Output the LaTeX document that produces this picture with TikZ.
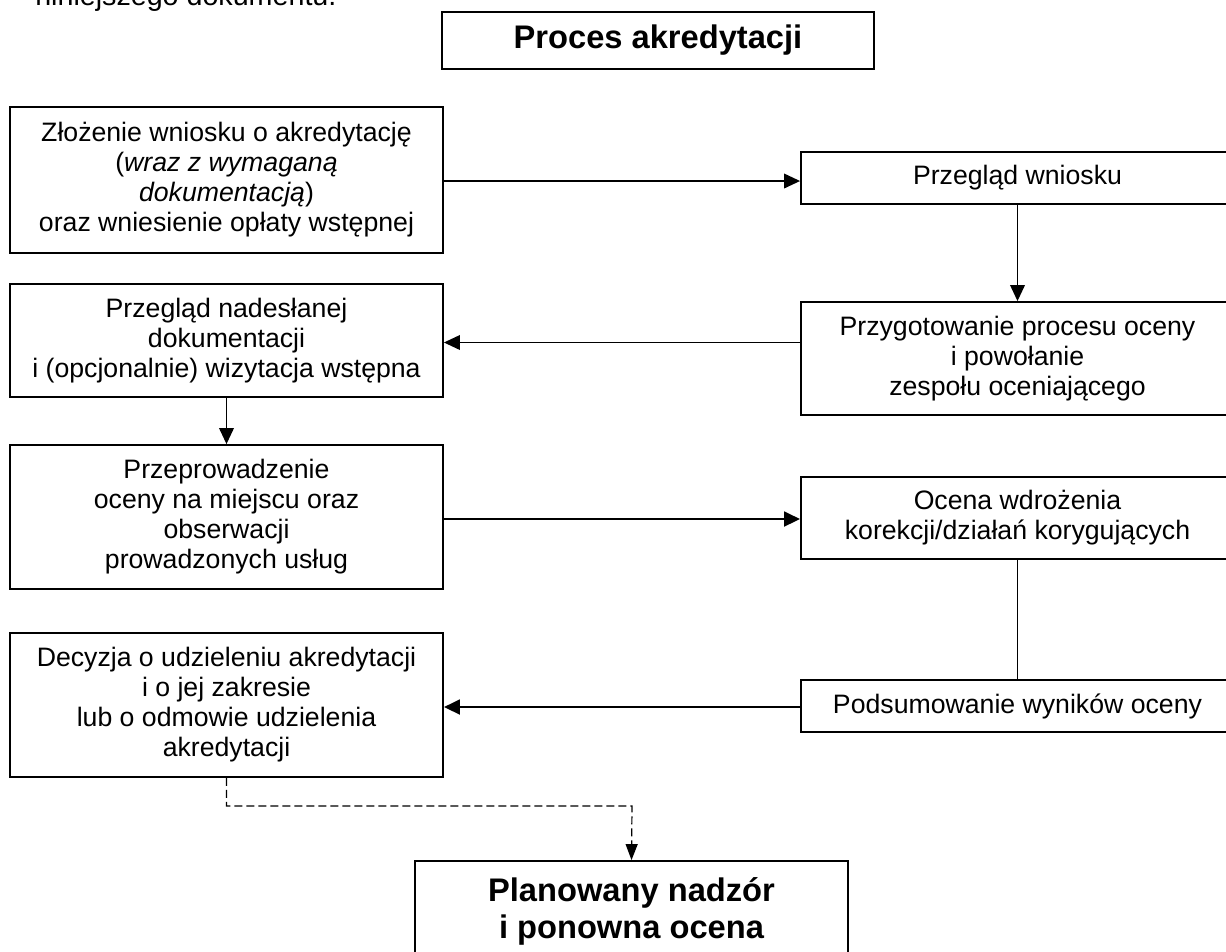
\documentclass[tikz,border=0pt]{standalone}
\usepackage{fontspec}
\setmainfont{Liberation Sans}
\usetikzlibrary{arrows.meta,calc}
\begin{document}
\begin{tikzpicture}[x=0.75pt,y=-0.75pt,
  box/.style={draw,line width=1.4pt,align=center,inner sep=0pt,
    font=\fontsize{20}{22.5}\selectfont},
  bigbox/.style={box,font=\fontsize{24.5}{28}\selectfont\bfseries},
  conn/.style={line width=1.1pt,-{Triangle[length=12pt,width=11pt]}},
  thickconn/.style={conn,line width=2.2pt},
  dashconn/.style={line width=0.9pt,dash pattern=on 6pt off 3pt,-{Triangle[length=12pt,width=9pt]}}]
\useasboundingbox (0,0) rectangle (1226,951);
\clip (0,0) rectangle (1226,951);

\node[anchor=base west,inner sep=0pt,font=\fontsize{21.5}{24}\selectfont] (prev) at (35,5) {niniejszego dokumentu.};

\node[bigbox,minimum width=324pt,minimum height=42.75pt] (title) at (658,40.5) {Proces akredytacji};

\node[box,minimum width=324.75pt,minimum height=109.5pt] (b1) at (226.5,180)
  {Złożenie wniosku o akredytację\\(\textit{wraz z wymaganą}\\\textit{dokumentacją})\\oraz wniesienie opłaty wstępnej};
\node[box,minimum width=324.75pt,minimum height=39pt] (b2) at (1017.5,178) {Przegląd wniosku};
\node[box,minimum width=324.75pt,minimum height=84.75pt] (b3) at (226.5,340.5)
  {Przegląd nadesłanej\\dokumentacji\\i (opcjonalnie) wizytacja wstępna};
\node[box,minimum width=324.75pt,minimum height=84.75pt] (b4) at (1017.5,358.5)
  {Przygotowanie procesu oceny\\i powołanie\\zespołu oceniającego};
\node[box,minimum width=324.75pt,minimum height=108pt] (b5) at (226.5,517)
  {Przeprowadzenie\\oceny na miejscu oraz\\obserwacji\\prowadzonych usług};
\node[box,minimum width=324.75pt,minimum height=61.5pt] (b6) at (1017.5,518)
  {Ocena wdrożenia\\korekcji/działań korygujących};
\node[box,minimum width=324.75pt,minimum height=108pt] (b7) at (226.5,705)
  {Decyzja o udzieleniu akredytacji\\i o jej zakresie\\lub o odmowie udzielenia\\akredytacji};
\node[box,minimum width=324.75pt,minimum height=39pt] (b8) at (1017.5,706) {Podsumowanie wyników oceny};
\node[bigbox,minimum width=324.75pt,minimum height=75.75pt] (b9) at (631.5,911.5)
  {Planowany nadzór\\i ponowna ocena};

\coordinate (d1) at (632,806);

\draw[conn] ([yshift=-0.75pt]b1.east) -- ([yshift=-0.75pt]b1.east -| b2.west);
\draw[conn] (b2.south) -- (b4.north);
\draw[conn] ([yshift=-1.5pt]b4.west |- b3.east) -- ([yshift=-1.5pt]b3.east);
\draw[conn] (b3.south) -- (b5.north);
\draw[thickconn] ([yshift=-1.5pt]b5.east) -- ([yshift=-1.5pt]b5.east -| b6.west);
\draw[line width=1.1pt] (b6.south) -- (b8.north);
\draw[thickconn] ([yshift=-0.75pt]b8.west) -- ([yshift=-0.75pt]b8.west -| b7.east);
\draw[dashconn] (b7.south) |- (d1) -- (b9.north);
\end{tikzpicture}
\end{document}
